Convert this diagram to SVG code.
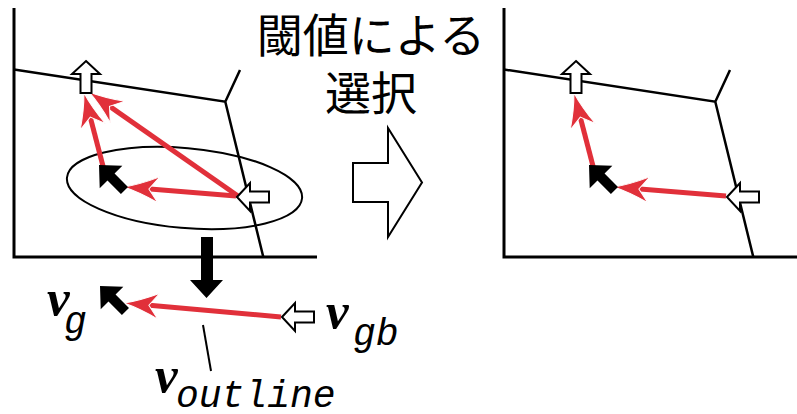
<svg xmlns="http://www.w3.org/2000/svg" xmlns:xlink="http://www.w3.org/1999/xlink" width="797" height="414" viewBox="0 0 797 414">
<style>
.axis{fill:none;stroke:#000;stroke-width:3}
.bd{fill:none;stroke:#000;stroke-width:2.5}
.hollow{fill:#fff;stroke:#000;stroke-width:2;stroke-linejoin:miter}
.solid{fill:#000;stroke:none}
.red{fill:none;stroke:#e1303a;stroke-width:5}
.jp{font-family:"Noto Sans CJK JP","Noto Sans",sans-serif;font-size:46px;fill:#000}
.vv{font-family:"Liberation Serif",serif;font-style:italic;font-weight:bold;font-size:51px;fill:#000}
.sub{font-family:"Liberation Mono",monospace;font-style:italic;font-size:38px;fill:#000}
</style>
<defs>
<marker id="rh" markerUnits="userSpaceOnUse" orient="auto" refX="0" refY="0" markerWidth="60" markerHeight="60" overflow="visible">
<path d="M20,0 Q4,-4 -15,-13 L-5,0 L-15,13 Q4,4 20,0 Z" fill="#e1303a" stroke="#fff" stroke-width="1"/>
</marker>
<polygon id="hol" points="0,0 13,-14 13,-5.5 32,-5.5 32,5.5 13,5.5 13,14"/>
<polygon id="blk" points="0,0 17,-16 17,-5 36,-5 36,5 17,5 17,16"/>
</defs>

<g id="left-panel">
<path class="axis" d="M14,8 V257 H317"/>
<path class="bd" d="M14,69.5 L225.3,101.7 L240,70 M225.3,101.7 L263.3,257"/>
<ellipse class="bd" style="stroke-width:2" cx="184.5" cy="188" rx="118" ry="40" transform="rotate(5 184.5 188)"/>
</g>

<g id="right-panel">
<path class="axis" d="M504,8 V257 H797"/>
<path class="bd" d="M504,69.5 L715.3,101.7 L730,70 M715.3,101.7 L753.3,257"/>
</g>

<g id="connectors">
<path class="red" d="M104,170 L89,112.3" marker-end="url(#rh)"/>
<path class="red" d="M238,196 L105.4,103.4" marker-end="url(#rh)"/>
<path class="red" d="M236,196 L143.9,188.6" marker-end="url(#rh)"/>
<path class="red" d="M594,170 L579,112.3" marker-end="url(#rh)"/>
<path class="red" d="M726,196 L633.9,188.6" marker-end="url(#rh)"/>
<path class="red" d="M281,317 L143.9,304.8" marker-end="url(#rh)"/>
<path d="M203,325 L211,371" fill="none" stroke="#000" stroke-width="2"/>
</g>

<g id="left-nodes">
<use id="l-up" xlink:href="#hol" class="hollow" transform="translate(86,61) rotate(90)"/>
<use id="l-gb" xlink:href="#hol" class="hollow" transform="translate(237,197)"/>
<use id="l-g" xlink:href="#blk" class="solid" transform="translate(99,165) rotate(45)"/>
</g>

<g id="right-nodes">
<use id="r-up" xlink:href="#hol" class="hollow" transform="translate(576,61) rotate(90)"/>
<use id="r-gb" xlink:href="#hol" class="hollow" transform="translate(727,197)"/>
<use id="r-g" xlink:href="#blk" class="solid" transform="translate(589,165) rotate(45)"/>
</g>

<g id="down-arrow">
<polygon class="solid" points="201,237 213,237 213,280 223,280 206.5,298 190,280 201,280"/>
</g>

<g id="select-arrow">
<polygon class="hollow" points="353,163 388,163 388,128 422,182.5 388,237 388,202 353,202"/>
</g>

<g id="title">
<text class="jp" x="371" y="52" text-anchor="middle">閾値による</text>
<text class="jp" x="371" y="110" text-anchor="middle">選択</text>
</g>

<g id="legend">
<use id="b-g" xlink:href="#blk" class="solid" transform="translate(100,286) rotate(45)"/>
<use id="b-gb" xlink:href="#hol" class="hollow" transform="translate(282,317)"/>
<text x="47" y="315"><tspan class="vv">v</tspan></text>
<text class="sub" x="64" y="333">g</text>
<text x="326" y="328"><tspan class="vv">v</tspan></text>
<text class="sub" x="353" y="345">gb</text>
<text x="155" y="392"><tspan class="vv">v</tspan></text>
<text class="sub" x="176" y="407">outline</text>
</g>
</svg>
